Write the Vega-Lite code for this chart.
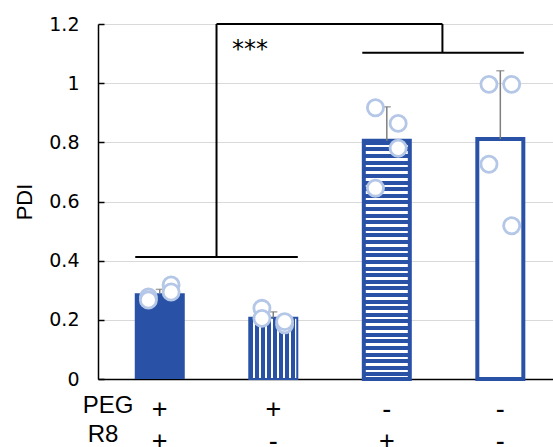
{
  "$schema": "https://vega.github.io/schema/vega-lite/v6.json",
  "width": 455,
  "height": 355,
  "autosize": {"type": "none"},
  "padding": {"left": 98, "top": 24, "right": 0, "bottom": 68},
  "background": "white",
  "config": {
    "view": {"stroke": null},
    "font": "Liberation Sans"
  },
  "datasets": {
    "bars": [
      {"group": 1, "mean": 0.29, "upper": 0.303, "peg": "+", "r8": "+"},
      {"group": 2, "mean": 0.207, "upper": 0.227, "peg": "+", "r8": "-"},
      {"group": 3, "mean": 0.805, "upper": 0.92, "peg": "-", "r8": "+"},
      {"group": 4, "mean": 0.811, "upper": 1.042, "peg": "-", "r8": "-"}
    ],
    "points": [
      {"x": 0.9, "v": 0.277},
      {"x": 0.9, "v": 0.267},
      {"x": 1.1, "v": 0.318},
      {"x": 1.1, "v": 0.294},
      {"x": 1.9, "v": 0.239},
      {"x": 1.9, "v": 0.205},
      {"x": 2.1, "v": 0.183},
      {"x": 2.1, "v": 0.194},
      {"x": 2.9, "v": 0.917},
      {"x": 3.1, "v": 0.864},
      {"x": 3.1, "v": 0.78},
      {"x": 2.9, "v": 0.645},
      {"x": 3.9, "v": 0.996},
      {"x": 4.1, "v": 0.996},
      {"x": 3.9, "v": 0.726},
      {"x": 4.1, "v": 0.518}
    ],
    "brackets": [
      {"x1": 0.784, "x2": 2.216, "y1": 0.412, "y2": 0.412},
      {"x1": 1.5, "x2": 1.5, "y1": 0.412, "y2": 1.2},
      {"x1": 1.5, "x2": 3.49, "y1": 1.2, "y2": 1.2},
      {"x1": 3.49, "x2": 3.49, "y1": 1.2, "y2": 1.103},
      {"x1": 2.784, "x2": 4.207, "y1": 1.103, "y2": 1.103}
    ],
    "rows": [
      {"name": "PEG", "x": 0.545},
      {"name": "R8", "x": 0.5}
    ],
    "sig": [
      {"label": "***", "x": 1.637, "y": 1.087}
    ]
  },
  "encoding": {
    "x": {"type": "quantitative", "scale": {"domain": [0.5, 4.42], "nice": false, "zero": false}},
    "y": {"type": "quantitative", "scale": {"domain": [0, 1.2], "nice": false}}
  },
  "layer": [
    {
      "data": {"name": "bars"},
      "mark": {"type": "rule", "color": "#000000", "strokeWidth": 0, "opacity": 0},
      "encoding": {
        "x": {"field": "group", "type": "quantitative", "scale": {"domain": [0.5, 4.42], "nice": false, "zero": false},
          "axis": {"title": null, "labels": false, "ticks": false, "grid": false, "domainColor": "#000000", "domainWidth": 1.5, "values": [1, 2, 3, 4]}},
        "y": {"field": "mean", "type": "quantitative", "scale": {"domain": [0, 1.2], "nice": false},
          "axis": {"title": "PDI", "values": [0, 0.2, 0.4, 0.6, 0.8, 1, 1.2], "format": "~g", "grid": true, "gridColor": "#d9d9d9", "gridWidth": 1,
            "domainColor": "#000000", "domainWidth": 1.5, "tickColor": "#000000", "tickWidth": 1.5, "tickSize": -6, "labelPadding": 25,
            "labelFontSize": 19, "labelColor": "#000000", "labelFont": "DejaVu Sans",
            "titleFontSize": 22, "titleFontWeight": "normal", "titleColor": "#000000", "titleFont": "Liberation Sans", "titlePadding": 12}}
      }
    },
    {
      "data": {"name": "bars"},
      "transform": [{"filter": "datum.group == 1"}],
      "mark": {"type": "bar", "size": 50, "fill": "#2951a6", "strokeWidth": 0},
      "encoding": {"x": {"field": "group", "type": "quantitative"}, "y": {"field": "mean", "type": "quantitative"}}
    },
    {
      "data": {"name": "bars"},
      "transform": [{"filter": "datum.group == 2"}],
      "mark": {"type": "bar", "size": 48, "stroke": "#2951a6", "strokeWidth": 2,
        "fill": {"gradient": "linear", "x1": 0, "y1": 0, "x2": 1, "y2": 0, "stops": [
          {"offset": 0, "color": "#2951a6"}, {"offset": 0.075, "color": "#2951a6"}, {"offset": 0.075, "color": "#ffffff"}, {"offset": 0.125, "color": "#ffffff"},
          {"offset": 0.125, "color": "#2951a6"}, {"offset": 0.2, "color": "#2951a6"}, {"offset": 0.2, "color": "#ffffff"}, {"offset": 0.25, "color": "#ffffff"},
          {"offset": 0.25, "color": "#2951a6"}, {"offset": 0.325, "color": "#2951a6"}, {"offset": 0.325, "color": "#ffffff"}, {"offset": 0.375, "color": "#ffffff"},
          {"offset": 0.375, "color": "#2951a6"}, {"offset": 0.45, "color": "#2951a6"}, {"offset": 0.45, "color": "#ffffff"}, {"offset": 0.5, "color": "#ffffff"},
          {"offset": 0.5, "color": "#2951a6"}, {"offset": 0.575, "color": "#2951a6"}, {"offset": 0.575, "color": "#ffffff"}, {"offset": 0.625, "color": "#ffffff"},
          {"offset": 0.625, "color": "#2951a6"}, {"offset": 0.7, "color": "#2951a6"}, {"offset": 0.7, "color": "#ffffff"}, {"offset": 0.75, "color": "#ffffff"},
          {"offset": 0.75, "color": "#2951a6"}, {"offset": 0.825, "color": "#2951a6"}, {"offset": 0.825, "color": "#ffffff"}, {"offset": 0.875, "color": "#ffffff"},
          {"offset": 0.875, "color": "#2951a6"}, {"offset": 0.95, "color": "#2951a6"}, {"offset": 0.95, "color": "#ffffff"}, {"offset": 1, "color": "#ffffff"}
        ]}},
      "encoding": {"x": {"field": "group", "type": "quantitative"}, "y": {"field": "mean", "type": "quantitative"}}
    },
    {
      "data": {"name": "bars"},
      "transform": [{"filter": "datum.group == 3"}],
      "mark": {"type": "bar", "size": 46, "stroke": "#2951a6", "strokeWidth": 4,
        "fill": {"gradient": "linear", "x1": 0, "y1": 0, "x2": 0, "y2": 1, "stops": [
          {"offset": 0, "color": "#2951a6"}, {"offset": 0.0167, "color": "#2951a6"}, {"offset": 0.0167, "color": "#ffffff"}, {"offset": 0.0278, "color": "#ffffff"},
          {"offset": 0.0278, "color": "#2951a6"}, {"offset": 0.0444, "color": "#2951a6"}, {"offset": 0.0444, "color": "#ffffff"}, {"offset": 0.0556, "color": "#ffffff"},
          {"offset": 0.0556, "color": "#2951a6"}, {"offset": 0.0722, "color": "#2951a6"}, {"offset": 0.0722, "color": "#ffffff"}, {"offset": 0.0833, "color": "#ffffff"},
          {"offset": 0.0833, "color": "#2951a6"}, {"offset": 0.1, "color": "#2951a6"}, {"offset": 0.1, "color": "#ffffff"}, {"offset": 0.1111, "color": "#ffffff"},
          {"offset": 0.1111, "color": "#2951a6"}, {"offset": 0.1278, "color": "#2951a6"}, {"offset": 0.1278, "color": "#ffffff"}, {"offset": 0.1389, "color": "#ffffff"},
          {"offset": 0.1389, "color": "#2951a6"}, {"offset": 0.1556, "color": "#2951a6"}, {"offset": 0.1556, "color": "#ffffff"}, {"offset": 0.1667, "color": "#ffffff"},
          {"offset": 0.1667, "color": "#2951a6"}, {"offset": 0.1833, "color": "#2951a6"}, {"offset": 0.1833, "color": "#ffffff"}, {"offset": 0.1944, "color": "#ffffff"},
          {"offset": 0.1944, "color": "#2951a6"}, {"offset": 0.2111, "color": "#2951a6"}, {"offset": 0.2111, "color": "#ffffff"}, {"offset": 0.2222, "color": "#ffffff"},
          {"offset": 0.2222, "color": "#2951a6"}, {"offset": 0.2389, "color": "#2951a6"}, {"offset": 0.2389, "color": "#ffffff"}, {"offset": 0.25, "color": "#ffffff"},
          {"offset": 0.25, "color": "#2951a6"}, {"offset": 0.2667, "color": "#2951a6"}, {"offset": 0.2667, "color": "#ffffff"}, {"offset": 0.2778, "color": "#ffffff"},
          {"offset": 0.2778, "color": "#2951a6"}, {"offset": 0.2944, "color": "#2951a6"}, {"offset": 0.2944, "color": "#ffffff"}, {"offset": 0.3056, "color": "#ffffff"},
          {"offset": 0.3056, "color": "#2951a6"}, {"offset": 0.3222, "color": "#2951a6"}, {"offset": 0.3222, "color": "#ffffff"}, {"offset": 0.3333, "color": "#ffffff"},
          {"offset": 0.3333, "color": "#2951a6"}, {"offset": 0.35, "color": "#2951a6"}, {"offset": 0.35, "color": "#ffffff"}, {"offset": 0.3611, "color": "#ffffff"},
          {"offset": 0.3611, "color": "#2951a6"}, {"offset": 0.3778, "color": "#2951a6"}, {"offset": 0.3778, "color": "#ffffff"}, {"offset": 0.3889, "color": "#ffffff"},
          {"offset": 0.3889, "color": "#2951a6"}, {"offset": 0.4056, "color": "#2951a6"}, {"offset": 0.4056, "color": "#ffffff"}, {"offset": 0.4167, "color": "#ffffff"},
          {"offset": 0.4167, "color": "#2951a6"}, {"offset": 0.4333, "color": "#2951a6"}, {"offset": 0.4333, "color": "#ffffff"}, {"offset": 0.4444, "color": "#ffffff"},
          {"offset": 0.4444, "color": "#2951a6"}, {"offset": 0.4611, "color": "#2951a6"}, {"offset": 0.4611, "color": "#ffffff"}, {"offset": 0.4722, "color": "#ffffff"},
          {"offset": 0.4722, "color": "#2951a6"}, {"offset": 0.4889, "color": "#2951a6"}, {"offset": 0.4889, "color": "#ffffff"}, {"offset": 0.5, "color": "#ffffff"},
          {"offset": 0.5, "color": "#2951a6"}, {"offset": 0.5167, "color": "#2951a6"}, {"offset": 0.5167, "color": "#ffffff"}, {"offset": 0.5278, "color": "#ffffff"},
          {"offset": 0.5278, "color": "#2951a6"}, {"offset": 0.5444, "color": "#2951a6"}, {"offset": 0.5444, "color": "#ffffff"}, {"offset": 0.5556, "color": "#ffffff"},
          {"offset": 0.5556, "color": "#2951a6"}, {"offset": 0.5722, "color": "#2951a6"}, {"offset": 0.5722, "color": "#ffffff"}, {"offset": 0.5833, "color": "#ffffff"},
          {"offset": 0.5833, "color": "#2951a6"}, {"offset": 0.6, "color": "#2951a6"}, {"offset": 0.6, "color": "#ffffff"}, {"offset": 0.6111, "color": "#ffffff"},
          {"offset": 0.6111, "color": "#2951a6"}, {"offset": 0.6278, "color": "#2951a6"}, {"offset": 0.6278, "color": "#ffffff"}, {"offset": 0.6389, "color": "#ffffff"},
          {"offset": 0.6389, "color": "#2951a6"}, {"offset": 0.6556, "color": "#2951a6"}, {"offset": 0.6556, "color": "#ffffff"}, {"offset": 0.6667, "color": "#ffffff"},
          {"offset": 0.6667, "color": "#2951a6"}, {"offset": 0.6833, "color": "#2951a6"}, {"offset": 0.6833, "color": "#ffffff"}, {"offset": 0.6944, "color": "#ffffff"},
          {"offset": 0.6944, "color": "#2951a6"}, {"offset": 0.7111, "color": "#2951a6"}, {"offset": 0.7111, "color": "#ffffff"}, {"offset": 0.7222, "color": "#ffffff"},
          {"offset": 0.7222, "color": "#2951a6"}, {"offset": 0.7389, "color": "#2951a6"}, {"offset": 0.7389, "color": "#ffffff"}, {"offset": 0.75, "color": "#ffffff"},
          {"offset": 0.75, "color": "#2951a6"}, {"offset": 0.7667, "color": "#2951a6"}, {"offset": 0.7667, "color": "#ffffff"}, {"offset": 0.7778, "color": "#ffffff"},
          {"offset": 0.7778, "color": "#2951a6"}, {"offset": 0.7944, "color": "#2951a6"}, {"offset": 0.7944, "color": "#ffffff"}, {"offset": 0.8056, "color": "#ffffff"},
          {"offset": 0.8056, "color": "#2951a6"}, {"offset": 0.8222, "color": "#2951a6"}, {"offset": 0.8222, "color": "#ffffff"}, {"offset": 0.8333, "color": "#ffffff"},
          {"offset": 0.8333, "color": "#2951a6"}, {"offset": 0.85, "color": "#2951a6"}, {"offset": 0.85, "color": "#ffffff"}, {"offset": 0.8611, "color": "#ffffff"},
          {"offset": 0.8611, "color": "#2951a6"}, {"offset": 0.8778, "color": "#2951a6"}, {"offset": 0.8778, "color": "#ffffff"}, {"offset": 0.8889, "color": "#ffffff"},
          {"offset": 0.8889, "color": "#2951a6"}, {"offset": 0.9056, "color": "#2951a6"}, {"offset": 0.9056, "color": "#ffffff"}, {"offset": 0.9167, "color": "#ffffff"},
          {"offset": 0.9167, "color": "#2951a6"}, {"offset": 0.9333, "color": "#2951a6"}, {"offset": 0.9333, "color": "#ffffff"}, {"offset": 0.9444, "color": "#ffffff"},
          {"offset": 0.9444, "color": "#2951a6"}, {"offset": 0.9611, "color": "#2951a6"}, {"offset": 0.9611, "color": "#ffffff"}, {"offset": 0.9722, "color": "#ffffff"},
          {"offset": 0.9722, "color": "#2951a6"}, {"offset": 0.9889, "color": "#2951a6"}, {"offset": 0.9889, "color": "#ffffff"}, {"offset": 1, "color": "#ffffff"}
        ]}},
      "encoding": {"x": {"field": "group", "type": "quantitative"}, "y": {"field": "mean", "type": "quantitative"}}
    },
    {
      "data": {"name": "bars"},
      "transform": [{"filter": "datum.group == 4"}],
      "mark": {"type": "bar", "size": 46, "fill": "#ffffff", "stroke": "#2951a6", "strokeWidth": 4},
      "encoding": {"x": {"field": "group", "type": "quantitative"}, "y": {"field": "mean", "type": "quantitative"}}
    },
    {
      "data": {"name": "bars"},
      "mark": {"type": "rule", "color": "#7f7f7f", "strokeWidth": 1.5},
      "encoding": {"x": {"field": "group", "type": "quantitative"}, "y": {"field": "mean", "type": "quantitative"}, "y2": {"field": "upper"}}
    },
    {
      "data": {"name": "bars"},
      "mark": {"type": "tick", "orient": "horizontal", "color": "#7f7f7f", "size": 8, "thickness": 1.5},
      "encoding": {"x": {"field": "group", "type": "quantitative"}, "y": {"field": "upper", "type": "quantitative"}}
    },
    {
      "data": {"name": "points"},
      "mark": {"type": "point", "shape": "circle", "filled": false, "fill": "#ffffff", "fillOpacity": 1, "stroke": "#b4c7e7", "strokeWidth": 2.8, "size": 260, "opacity": 1},
      "encoding": {"x": {"field": "x", "type": "quantitative"}, "y": {"field": "v", "type": "quantitative"}}
    },
    {
      "data": {"name": "brackets"},
      "mark": {"type": "rule", "color": "#000000", "strokeWidth": 2},
      "encoding": {"x": {"field": "x1", "type": "quantitative"}, "x2": {"field": "x2"}, "y": {"field": "y1", "type": "quantitative"}, "y2": {"field": "y2"}}
    },
    {
      "data": {"name": "sig"},
      "mark": {"type": "text", "align": "left", "baseline": "alphabetic", "fontSize": 24, "color": "#000000", "font": "DejaVu Sans"},
      "encoding": {"x": {"field": "x", "type": "quantitative"}, "y": {"field": "y", "type": "quantitative"}, "text": {"field": "label"}}
    },
    {
      "data": {"name": "bars"},
      "mark": {"type": "text", "align": "center", "baseline": "middle", "fontSize": 27, "color": "#000000", "font": "Liberation Sans"},
      "encoding": {"x": {"field": "group", "type": "quantitative"}, "y": {"datum": -0.105}, "text": {"field": "peg"}}
    },
    {
      "data": {"name": "bars"},
      "mark": {"type": "text", "align": "center", "baseline": "middle", "fontSize": 27, "color": "#000000", "font": "Liberation Sans"},
      "encoding": {"x": {"field": "group", "type": "quantitative"}, "y": {"datum": -0.214}, "text": {"field": "r8"}}
    },
    {
      "data": {"name": "rows"},
      "transform": [{"filter": "datum.name == 'PEG'"}],
      "mark": {"type": "text", "align": "center", "baseline": "middle", "fontSize": 24, "color": "#000000", "font": "Liberation Sans"},
      "encoding": {"x": {"field": "x", "type": "quantitative"}, "y": {"datum": -0.09}, "text": {"field": "name"}}
    },
    {
      "data": {"name": "rows"},
      "transform": [{"filter": "datum.name == 'R8'"}],
      "mark": {"type": "text", "align": "center", "baseline": "middle", "fontSize": 24, "color": "#000000", "font": "Liberation Sans"},
      "encoding": {"x": {"field": "x", "type": "quantitative"}, "y": {"datum": -0.19}, "text": {"field": "name"}}
    }
  ]
}
